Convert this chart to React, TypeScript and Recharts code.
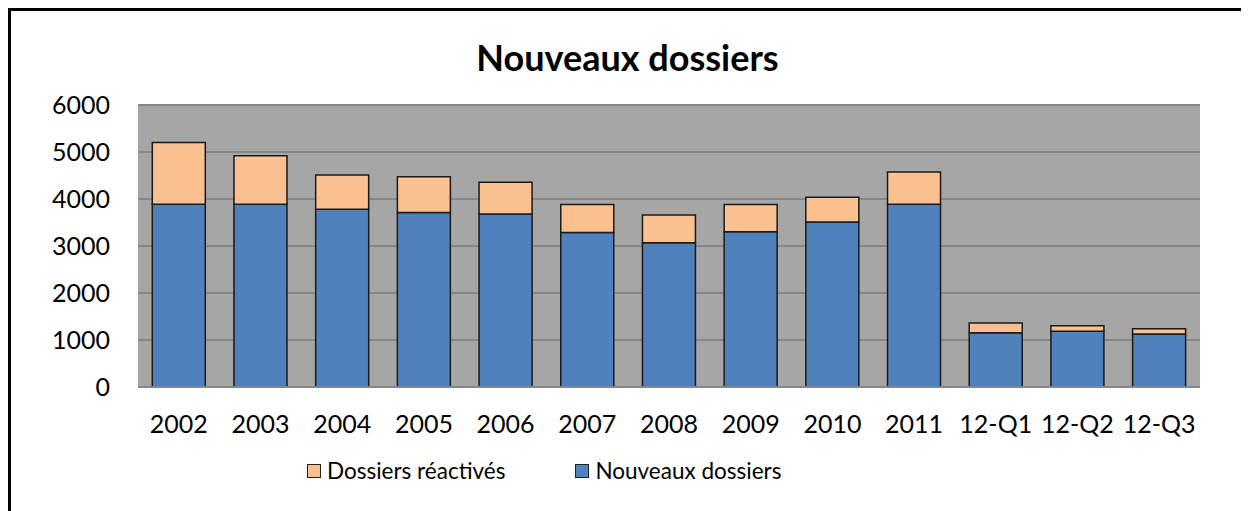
import { BarChart, Bar, XAxis, YAxis, CartesianGrid, Legend } from 'recharts';

const periodes = ['2002', '2003', '2004', '2005', '2006', '2007', '2008', '2009', '2010', '2011', '12-Q1', '12-Q2', '12-Q3'];
const nouveaux = [3890, 3890, 3780, 3715, 3680, 3285, 3070, 3305, 3510, 3890, 1155, 1185, 1130];
const reactives = [1310, 1030, 730, 760, 675, 600, 590, 580, 525, 685, 205, 120, 110];
const yTicks = [0, 1000, 2000, 3000, 4000, 5000, 6000];

const ORANGE = '#FAC090';
const BLEU = '#4F81BD';
const FONT = 'Lato, "Open Sans", sans-serif';

const data = periodes.map((p, i) => ({ periode: p, nouveaux: nouveaux[i], reactives: reactives[i] }));

function LegendeSimple() {
  const items = [
    { label: 'Dossiers réactivés', color: ORANGE },
    { label: 'Nouveaux dossiers', color: BLEU },
  ];
  return (
    <div style={{ display: 'flex', paddingLeft: 296, paddingTop: 10, gap: 70, fontFamily: FONT, fontSize: 22.5, color: '#000' }}>
      {items.map((it) => (
        <div key={it.label} style={{ display: 'flex', alignItems: 'center' }}>
          <span style={{ width: 12, height: 12, background: it.color, border: '1px solid #222', marginRight: 6 }} />
          <span>{it.label}</span>
        </div>
      ))}
    </div>
  );
}

export default function App() {
  return (
    <div style={{ position: 'relative', width: 1239, height: 520, border: '3px solid #000', boxSizing: 'border-box', background: '#fff' }}>
      <div style={{ position: 'absolute', left: 0, right: 0, top: 24, textAlign: 'center', fontFamily: FONT, fontWeight: 700, fontSize: 36, color: '#000' }}>
        Nouveaux dossiers
      </div>
      <BarChart
        width={1233}
        height={500}
        data={data}
        margin={{ top: 94, right: 44, left: 0, bottom: 18 }}
        barCategoryGap="17.5%"
      >
        <CartesianGrid vertical={false} stroke="#868686" strokeWidth={2} fill="#A6A6A6" fillOpacity={1} />
        <XAxis
          dataKey="periode"
          height={60}
          tickLine={false}
          tickSize={0}
          tickMargin={28}
          axisLine={{ stroke: '#868686', strokeWidth: 2 }}
          tick={{ fill: '#000', fontSize: 25, fontFamily: FONT }}
          interval={0}
        />
        <YAxis
          width={127}
          domain={[0, 6000]}
          ticks={yTicks}
          tickLine={false}
          axisLine={false}
          tickSize={0}
          tickMargin={28}
          tick={{ fill: '#000', fontSize: 25, fontFamily: FONT }}
        />
        <Legend verticalAlign="bottom" height={46} content={() => <LegendeSimple />} />
        <Bar dataKey="nouveaux" name="Nouveaux dossiers" stackId="a" fill={BLEU} stroke="#1a1a1a" strokeWidth={1.5} isAnimationActive={false} />
        <Bar dataKey="reactives" name="Dossiers réactivés" stackId="a" fill={ORANGE} stroke="#1a1a1a" strokeWidth={1.5} isAnimationActive={false} />
      </BarChart>
    </div>
  );
}
